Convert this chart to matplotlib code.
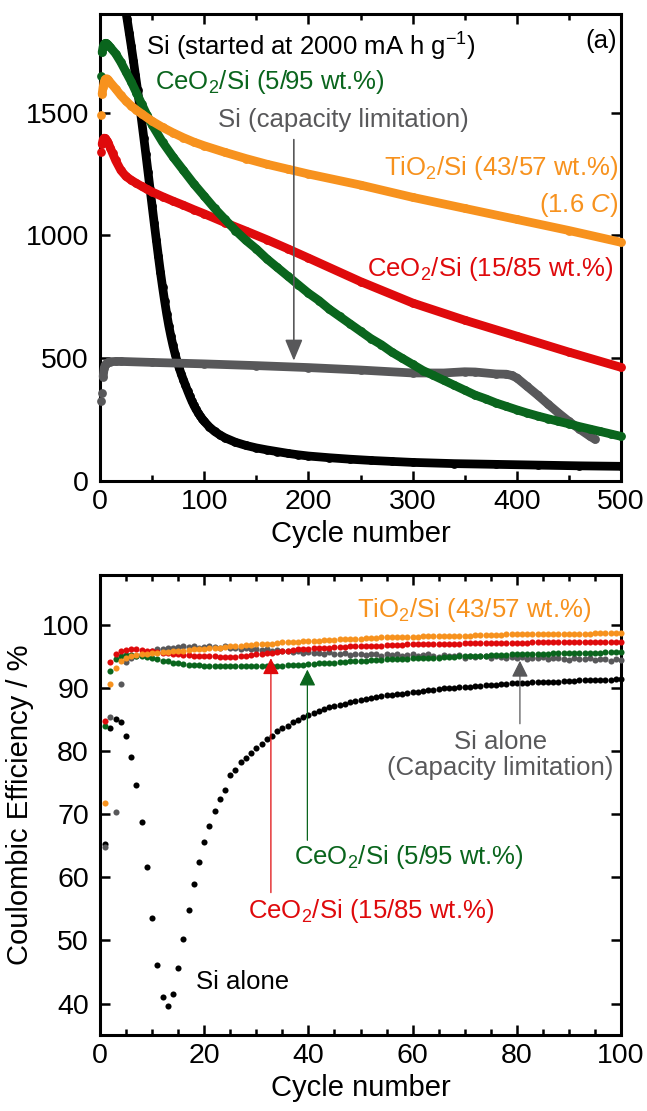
import numpy as np
import matplotlib.pyplot as plt
from matplotlib.ticker import MultipleLocator

plt.rcParams['font.family'] = ['Liberation Sans', 'DejaVu Sans']
plt.rcParams['mathtext.fontset'] = 'custom'
plt.rcParams['mathtext.rm'] = 'Liberation Sans'
plt.rcParams['mathtext.it'] = 'Liberation Sans:italic'
plt.rcParams['mathtext.bf'] = 'Liberation Sans:bold'

BLACK = '#000000'
GREEN = '#0a651d'
ORANGE = '#f7921e'
RED = '#df0a0c'
GRAY = '#58585a'

# ---- (a) discharge capacity (mA h g-1) vs cycle number ----
si_cyc = list(range(24, 101, 2)) + [105, 110, 115, 120, 130, 140, 150, 160, 170, 180, 190,
                                     200, 220, 240, 260, 280, 300, 340, 380, 420, 460, 500]
si_cap = [1930, 1880, 1825, 1770, 1712, 1652, 1592, 1530, 1465, 1398, 1330, 1260, 1190,
          1120, 1050, 982, 915, 850, 790, 733, 680, 632, 590, 552, 518, 487, 460, 435,
          412, 390, 368, 347, 327, 309, 293, 279, 266, 254, 243,
          220, 202, 188, 176, 158, 145, 135, 127, 120, 113, 107, 102, 95, 89, 84, 80,
          76, 71, 68, 65, 62, 60]

lim_cyc = [1, 2, 3, 4, 5, 6, 8, 10, 15, 20, 50, 100, 150, 200, 250, 300, 330, 350, 360,
           380, 390, 395, 400, 410, 420, 430, 440, 450, 460, 470, 475]
lim_cap = [325, 357, 425, 460, 472, 478, 483, 486, 487, 487, 483, 477, 470, 462, 452, 440,
           440, 445, 444, 436, 435, 430, 420, 385, 350, 313, 277, 243, 212, 183, 170]

ce5_cyc = [1, 2, 3, 4, 5, 6, 7, 8, 10, 15, 20, 25, 30, 35, 40, 45, 50, 60, 70, 80, 90,
           100, 110, 120, 130, 140, 150, 160, 170, 180, 190, 200, 210, 220, 230, 240, 250,
           260, 270, 280, 290, 300, 310, 320, 330, 340, 350, 360, 370, 380, 390, 400, 410,
           420, 430, 440, 450, 460, 470, 480, 490, 500]
ce5_cap = [1650, 1745, 1768, 1778, 1782, 1782, 1779, 1775, 1765, 1740, 1705, 1665, 1625,
           1580, 1535, 1490, 1450, 1380, 1320, 1265, 1210, 1160, 1110, 1065, 1020, 980,
           945, 905, 870, 835, 800, 765, 735, 700, 670, 640, 610, 580, 555, 525, 500, 475,
           450, 430, 410, 390, 370, 350, 335, 318, 304, 290, 277, 265, 254, 243, 233, 222,
           212, 202, 192, 182]

ti_cyc = [1, 2, 3, 4, 5, 6, 7, 8, 10, 15, 20, 25, 30, 35, 40, 50, 60, 70, 80, 90, 100,
          120, 140, 160, 180, 200, 250, 300, 350, 400, 450, 500]
ti_cap = [1490, 1575, 1605, 1625, 1635, 1638, 1637, 1633, 1622, 1597, 1570, 1547, 1527,
          1510, 1495, 1465, 1440, 1418, 1398, 1380, 1365, 1338, 1313, 1290, 1270, 1250,
          1205, 1155, 1110, 1065, 1020, 972]

ce15_cyc = [1, 2, 3, 4, 5, 6, 7, 8, 10, 12, 15, 20, 25, 30, 35, 40, 45, 50, 60, 70, 80,
            90, 100, 120, 140, 160, 180, 200, 250, 300, 350, 400, 450, 500]
ce15_cap = [1341, 1372, 1390, 1396, 1395, 1390, 1383, 1375, 1355, 1335, 1305, 1265, 1240,
            1225, 1212, 1200, 1188, 1177, 1158, 1140, 1123, 1105, 1088, 1052, 1018, 983,
            946, 908, 812, 725, 655, 590, 525, 463]

# ---- (b) coulombic efficiency (%) for the first 100 cycles ----
cycles = np.arange(1, 101)
si_ce = [65.3, 83.8, 85.2, 84.7, 82.5, 79.2, 74.6, 68.8, 61.6, 53.6,
         46.1, 41.0, 39.6, 41.5, 45.6, 50.2, 54.8, 58.9, 62.4, 65.6,
         68.1, 70.5, 72.5, 73.9, 76.2, 77.1, 78.3, 78.9, 79.7, 80.6,
         81.2, 82.0, 82.5, 83.2, 83.7, 84.1, 84.6, 85.0, 85.4, 85.8,
         86.1, 86.4, 86.7, 87.0, 87.2, 87.4, 87.6, 87.8, 88.0, 88.2,
         88.3, 88.5, 88.6, 88.8, 88.9, 89.0, 89.1, 89.2, 89.3, 89.4,
         89.5, 89.6, 89.7, 89.8, 89.9, 90.0, 90.0, 90.1, 90.2, 90.3,
         90.3, 90.4, 90.4, 90.5, 90.6, 90.6, 90.7, 90.7, 90.8, 90.8,
         90.9, 90.9, 91.0, 91.0, 91.0, 91.1, 91.1, 91.1, 91.2, 91.2,
         91.2, 91.3, 91.3, 91.3, 91.3, 91.4, 91.4, 91.4, 91.5, 91.5]
ti_ce = [71.8, 90.7, 93.3, 94.4, 94.8, 95.1, 95.3, 95.4, 95.5, 95.6,
         95.7, 95.8, 95.8, 95.9, 96.0, 96.0, 96.1, 96.2, 96.3, 96.3,
         96.4, 96.5, 96.5, 96.6, 96.7, 96.7, 96.8, 96.9, 96.9, 97.0,
         97.0, 97.1, 97.1, 97.2, 97.3, 97.3, 97.4, 97.4, 97.5, 97.5,
         97.6, 97.6, 97.7, 97.7, 97.7, 97.8, 97.8, 97.9, 97.9, 97.9,
         98.0, 98.0, 98.0, 98.1, 98.1, 98.1, 98.1, 98.2, 98.2, 98.2,
         98.2, 98.3, 98.3, 98.3, 98.3, 98.3, 98.4, 98.4, 98.4, 98.4,
         98.4, 98.5, 98.5, 98.5, 98.5, 98.5, 98.5, 98.6, 98.6, 98.6,
         98.6, 98.6, 98.6, 98.6, 98.6, 98.7, 98.7, 98.7, 98.7, 98.7,
         98.7, 98.7, 98.7, 98.7, 98.8, 98.8, 98.8, 98.8, 98.8, 98.8]
ce15_ce = [84.8, 94.2, 95.4, 95.9, 96.1, 96.2, 96.2, 96.1, 96.0, 95.9,
           95.8, 95.7, 95.6, 95.5, 95.4, 95.3, 95.3, 95.2, 95.2, 95.1,
           95.1, 95.1, 95.0, 95.0, 95.0, 95.0, 95.1, 95.2, 95.3, 95.4,
           95.5, 95.6, 95.7, 95.8, 95.9, 96.0, 96.1, 96.2, 96.3, 96.3,
           96.4, 96.4, 96.5, 96.5, 96.6, 96.6, 96.6, 96.7, 96.7, 96.7,
           96.8, 96.8, 96.8, 96.8, 96.9, 96.9, 96.9, 96.9, 97.0, 97.0,
           97.0, 97.0, 97.0, 97.1, 97.1, 97.1, 97.1, 97.1, 97.1, 97.2,
           97.2, 97.2, 97.2, 97.2, 97.2, 97.2, 97.2, 97.2, 97.2, 97.2,
           97.2, 97.2, 97.3, 97.3, 97.3, 97.3, 97.3, 97.3, 97.3, 97.3,
           97.3, 97.3, 97.3, 97.3, 97.3, 97.3, 97.3, 97.3, 97.3, 97.3]
ce5_ce = [84.0, 92.8, 94.7, 95.1, 95.3, 95.3, 95.2, 95.1, 95.0, 94.8,
          94.6, 94.4, 94.3, 94.1, 94.0, 93.9, 93.8, 93.7, 93.7, 93.6,
          93.6, 93.5, 93.5, 93.5, 93.5, 93.5, 93.5, 93.5, 93.5, 93.5,
          93.5, 93.5, 93.5, 93.6, 93.6, 93.7, 93.7, 93.8, 93.8, 93.9,
          93.9, 94.0, 94.0, 94.1, 94.1, 94.2, 94.2, 94.3, 94.3, 94.4,
          94.4, 94.5, 94.5, 94.5, 94.6, 94.6, 94.7, 94.7, 94.7, 94.8,
          94.8, 94.8, 94.9, 94.9, 94.9, 95.0, 95.0, 95.0, 95.1, 95.1,
          95.1, 95.2, 95.2, 95.2, 95.3, 95.3, 95.3, 95.3, 95.4, 95.4,
          95.4, 95.4, 95.5, 95.5, 95.5, 95.5, 95.6, 95.6, 95.6, 95.6,
          95.6, 95.7, 95.7, 95.7, 95.7, 95.7, 95.8, 95.8, 95.8, 95.8]
lim_ce = [64.8, 85.4, 70.4, 90.7, 94.2, 94.8, 95.2, 95.5, 95.8, 96.0,
          96.2, 96.3, 96.4, 96.5, 96.6, 96.8, 96.6, 96.7, 96.5, 96.6,
          96.8, 96.6, 96.5, 96.7, 96.4, 96.5, 96.3, 96.4, 96.2, 96.3,
          96.1, 96.2, 96.0, 96.1, 95.9, 96.0, 95.8, 95.9, 95.7, 95.8,
          95.6, 95.7, 95.5, 95.8, 95.5, 95.4, 95.6, 95.3, 95.5, 95.4,
          95.3, 95.5, 95.4, 95.2, 95.4, 95.3, 95.5, 95.2, 95.3, 95.4,
          95.1, 95.3, 95.4, 95.2, 95.0, 95.3, 95.2, 95.1, 95.3, 94.9,
          95.2, 95.0, 95.1, 95.2, 94.9, 95.1, 95.0, 94.8, 95.0, 94.9,
          95.0, 94.7, 94.9, 94.8, 95.0, 94.6, 94.8, 94.9, 94.7, 94.5,
          94.8, 94.6, 94.7, 94.8, 94.5, 94.7, 94.6, 94.4, 94.6, 94.5]


def style_axes(ax):
    for s in ax.spines.values():
        s.set_linewidth(2.2)
    ax.tick_params(which='both', direction='in', top=True, right=True,
                   width=1.8, labelsize=20.5)
    ax.tick_params(which='major', length=7)
    ax.tick_params(which='minor', length=4)
    ax.tick_params(axis='y', pad=8)
    ax.tick_params(axis='x', pad=6)


def thick_series(ax, x, y, color, start, clip=False):
    # loose first-cycle dots, then a dense band of overlapping dots
    ax.plot(x[:start], y[:start], 'o', color=color, ms=6.3, mew=0,
            clip_on=clip, zorder=3)
    ax.plot(x[start:], y[start:], '-o', color=color, lw=6.3, ms=6.3, mew=0,
            solid_capstyle='round', solid_joinstyle='round', clip_on=clip, zorder=3)


fig = plt.figure(figsize=(6.47, 11.11), dpi=100)

# ---------------- panel (a) ----------------
ax1 = fig.add_axes([0.1546, 0.567, 0.8052, 0.4201])
thick_series(ax1, si_cyc, si_cap, BLACK, 0, clip=True)
thick_series(ax1, lim_cyc, lim_cap, GRAY, 2)
thick_series(ax1, ce15_cyc, ce15_cap, RED, 1)
thick_series(ax1, ce5_cyc, ce5_cap, GREEN, 1)
thick_series(ax1, ti_cyc, ti_cap, ORANGE, 1)

ax1.set_xlim(0, 500)
ax1.set_ylim(0, 1900)
ax1.xaxis.set_major_locator(MultipleLocator(100))
ax1.xaxis.set_minor_locator(MultipleLocator(50))
ax1.set_yticks([0, 500, 1000, 1500])
style_axes(ax1)
ax1.set_xlabel('Cycle number', fontsize=21, labelpad=3)

fs = 18.5
ax1.text(44, 1769, 'Si (started at 2000 mA h g$^{-1}$)', color=BLACK, fontsize=fs, va='center')
ax1.text(496, 1790, '(a)', color=BLACK, fontsize=fs, va='center', ha='right')
ax1.text(53, 1626, 'CeO$_2$/Si (5/95 wt.%)', color=GREEN, fontsize=fs, va='center')
ax1.text(113, 1470, 'Si (capacity limitation)', color=GRAY, fontsize=fs, va='center')
ax1.text(497, 1274, 'TiO$_2$/Si (43/57 wt.%)', color=ORANGE, fontsize=fs, va='center', ha='right')
ax1.text(497, 1124, '(1.6 $C$)', color=ORANGE, fontsize=fs, va='center', ha='right')
ax1.text(492, 865, 'CeO$_2$/Si (15/85 wt.%)', color=RED, fontsize=fs, va='center', ha='right')
ax1.annotate('', xy=(186, 490), xytext=(186, 1390),
             arrowprops=dict(arrowstyle='-|>,head_length=0.65,head_width=0.27',
                             color=GRAY, lw=1.2, shrinkA=0, shrinkB=0, mutation_scale=20))

# ---------------- panel (b) ----------------
ax2 = fig.add_axes([0.1546, 0.0684, 0.8052, 0.414])
for vals, col in [(si_ce, BLACK), (lim_ce, GRAY), (ce5_ce, GREEN),
                  (ce15_ce, RED), (ti_ce, ORANGE)]:
    ax2.plot(cycles, vals, 'o', color=col, ms=4.4, mew=0, clip_on=False, zorder=3)

ax2.set_xlim(0, 100)
ax2.set_ylim(35, 108)
ax2.xaxis.set_major_locator(MultipleLocator(20))
ax2.xaxis.set_minor_locator(MultipleLocator(5))
ax2.set_yticks(np.arange(40, 101, 10))
style_axes(ax2)
ax2.set_xlabel('Cycle number', fontsize=21, labelpad=3)
ax2.set_ylabel('Coulombic Efficiency / %', fontsize=21, labelpad=5)

ax2.text(94.2, 102.4, 'TiO$_2$/Si (43/57 wt.%)', color=ORANGE, fontsize=fs, va='center', ha='right')
ax2.text(76.8, 79.5, 'Si alone\n(Capacity limitation)', color=GRAY, fontsize=fs,
         va='center', ha='center', linespacing=1.1)
ax2.text(37.3, 63.3, 'CeO$_2$/Si (5/95 wt.%)', color=GREEN, fontsize=fs, va='center')
ax2.text(28.4, 54.7, 'CeO$_2$/Si (15/85 wt.%)', color=RED, fontsize=fs, va='center')
ax2.text(18.5, 43.4, 'Si alone', color=BLACK, fontsize=fs, va='center')

head = 'head_length=0.5,head_width=0.25'
for x0, y0, y1, col in [(32.8, 57.6, 94.8, RED), (39.8, 65.9, 93.0, GREEN),
                        (80.6, 84.4, 94.4, GRAY)]:
    ax2.annotate('', xy=(x0, y1), xytext=(x0, y0),
                 arrowprops=dict(arrowstyle='-|>,' + head, color=col, lw=0.9,
                                 shrinkA=0, shrinkB=0, mutation_scale=20))

fig.savefig('out.png', dpi=100)
